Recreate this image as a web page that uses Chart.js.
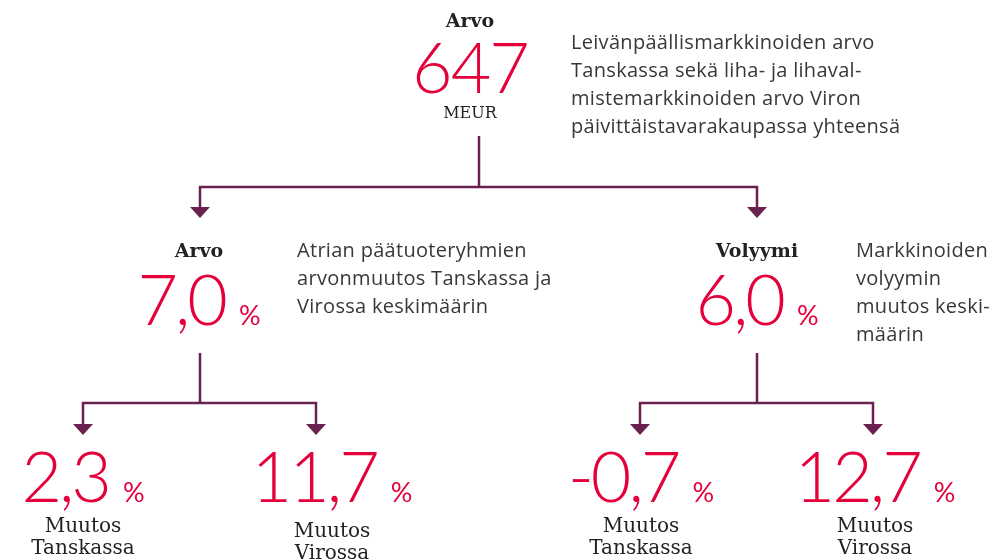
<!DOCTYPE html>
<html>
<head>
<meta charset="utf-8">
<script src="https://cdn.jsdelivr.net/npm/chart.js@4"></script>
<style>
    html, body { margin: 0; padding: 0; background: #ffffff; }
    #wrap { width: 1002px; height: 560px; position: relative; }
</style>
</head>
<body>
<div id="wrap"><canvas id="treeChart"></canvas></div>
<script>
// Arvo / volyymi tree - values and texts
const nodeLabels = [['Arvo'], ['Arvo'], ['Volyymi'], ['Muutos', 'Tanskassa'], ['Muutos', 'Virossa'], ['Muutos', 'Tanskassa'], ['Muutos', 'Virossa']];
const nodeValues = [647, 7.0, 6.0, 2.3, 11.7, -0.7, 12.7];
const nodeDecimals = [0, 1, 1, 1, 1, 1, 1];
const nodeUnits = ['MEUR', '%', '%', '%', '%', '%', '%'];
const nodeParents = [null, 0, 0, 1, 1, 2, 2];
const nodeNotes = [
    ['Leivänpäällismarkkinoiden arvo', 'Tanskassa sekä liha- ja lihaval-', 'mistemarkkinoiden arvo Viron', 'päivittäistavarakaupassa yhteensä'],
    ['Atrian päätuoteryhmien', 'arvonmuutos Tanskassa ja', 'Virossa keskimäärin'],
    ['Markkinoiden', 'volyymin', 'muutos keski-', 'määrin'],
    [], [], [], []
];

// layout (page units, not data)
const textX = [470, 199, 757, 83, 332, 641, 875];
const lineX = [479, 200, 757, 83, 316, 640, 873];
const level = [0, 1, 1, 2, 2, 2, 2];
const labelY = [27, 257, 257, 532, 537, 532, 532];
const valueY = [93, 325, 325, 502, 502, 502, 502];
const noteX = [571, 297, 856];
const noteY = [49, 257, 257];
const stemTop = [136, 353, 353];
const barY = [187, 403, 403];
const arrowTip = [null, 218, 218, 435, 435, 435, 435];

const RED = '#e4003b';
const PURPLE = '#6b2150';
const TEXT = '#383838';

function formatValue(v, d) {
    return v.toFixed(d).replace('.', ',');
}

// arrow head used as point style
const arrowHead = document.createElement('canvas');
arrowHead.width = 20;
arrowHead.height = 11;
(function() {
    const c = arrowHead.getContext('2d');
    c.fillStyle = PURPLE;
    c.beginPath();
    c.moveTo(0, 0);
    c.lineTo(20, 0);
    c.lineTo(10, 11);
    c.closePath();
    c.fill();
})();

function buildDatasets() {
    const sets = [];
    const arrows = [];
    nodeParents.forEach((p, i) => {
        if (p === null) return;
        arrows.push({ x: lineX[i], y: arrowTip[i] - 5.5 });
    });
    [0, 1, 2].forEach(p => {
        const kids = nodeParents.map((q, i) => q === p ? i : -1).filter(i => i >= 0);
        if (!kids.length) return;
        sets.push({
            type: 'line',
            data: [{ x: lineX[p], y: stemTop[p] }, { x: lineX[p], y: barY[p] }],
            borderColor: PURPLE, borderWidth: 2.5, pointRadius: 0, showLine: true, fill: false
        });
        const a = kids[0], b = kids[kids.length - 1];
        sets.push({
            type: 'line',
            data: [
                { x: lineX[a], y: arrowTip[a] - 10 },
                { x: lineX[a], y: barY[p] },
                { x: lineX[b], y: barY[p] },
                { x: lineX[b], y: arrowTip[b] - 10 }
            ],
            borderColor: PURPLE, borderWidth: 2.5, pointRadius: 0, showLine: true, fill: false,
            borderJoinStyle: 'miter'
        });
    });
    sets.push({
        type: 'scatter',
        data: arrows,
        pointStyle: arrowHead,
        pointRadius: 10,
        pointHoverRadius: 10
    });
    return sets;
}

const textPlugin = {
    id: 'treeText',
    afterDraw(chart) {
        const ctx = chart.ctx;
        const xs = chart.scales.x, ys = chart.scales.y;
        ctx.save();
        ctx.textBaseline = 'alphabetic';
        nodeValues.forEach((v, i) => {
            const cx = xs.getPixelForValue(textX[i]);
            // label (serif)
            ctx.letterSpacing = '0px';
            ctx.fillStyle = '#222222';
            ctx.textAlign = 'center';
            if (level[i] === 2) {
                ctx.font = '20px "DejaVu Serif"';
            } else {
                ctx.font = 'bold 19px "DejaVu Serif"';
            }
            nodeLabels[i].forEach((t, k) => {
                ctx.fillText(t, cx, ys.getPixelForValue(labelY[i] + k * 22));
            });

            // value
            const valText = formatValue(v, nodeDecimals[i]);
            ctx.fillStyle = RED;
            const vy = ys.getPixelForValue(valueY[i]);
            if (nodeUnits[i] === '%') {
                ctx.letterSpacing = '-3px';
                ctx.font = '300 70px Lato';
                const vw = ctx.measureText(valText).width;
                ctx.letterSpacing = '0px';
                ctx.font = '400 27px Lato';
                const uw = ctx.measureText('%').width;
                const gap = 14;
                const left = cx - (vw + gap + uw) / 2;
                ctx.textAlign = 'left';
                ctx.letterSpacing = '-3px';
                ctx.font = '300 70px Lato';
                ctx.fillText(valText, left, vy);
                ctx.letterSpacing = '0px';
                ctx.font = '400 27px Lato';
                ctx.fillText('%', left + vw + gap, vy);
            } else {
                ctx.textAlign = 'center';
                ctx.letterSpacing = '-2px';
                ctx.font = '300 70px Lato';
                ctx.fillText(valText, cx, vy);
                ctx.letterSpacing = '0px';
                ctx.fillStyle = '#222222';
                ctx.font = '16px "DejaVu Serif"';
                ctx.fillText(nodeUnits[i], cx, ys.getPixelForValue(118));
            }

            // note
            if (nodeNotes[i].length) {
                ctx.fillStyle = TEXT;
                ctx.textAlign = 'left';
                ctx.letterSpacing = '0.3px';
                ctx.font = '400 20px "Open Sans"';
                nodeNotes[i].forEach((t, k) => {
                    ctx.fillText(t, xs.getPixelForValue(noteX[i]), ys.getPixelForValue(noteY[i] + k * 28));
                });
            }
        });
        ctx.restore();
    }
};

function makeChart() {
    const ctx = document.getElementById('treeChart').getContext('2d');
    new Chart(ctx, {
        type: 'scatter',
        data: { datasets: buildDatasets() },
        options: {
            responsive: true,
            maintainAspectRatio: false,
            animation: false,
            layout: { padding: 0, autoPadding: false },
            scales: {
                x: { type: 'linear', min: 0, max: 1002, display: false },
                y: { type: 'linear', min: 0, max: 560, reverse: true, display: false }
            },
            plugins: {
                legend: { display: false },
                tooltip: { enabled: false }
            }
        },
        plugins: [textPlugin]
    });
}

Promise.all([
    document.fonts.load('300 70px Lato'),
    document.fonts.load('400 27px Lato'),
    document.fonts.load('400 20px "Open Sans"'),
    document.fonts.load('20px "DejaVu Serif"'),
    document.fonts.load('bold 19px "DejaVu Serif"')
]).then(makeChart, makeChart);
</script>
</body>
</html>
